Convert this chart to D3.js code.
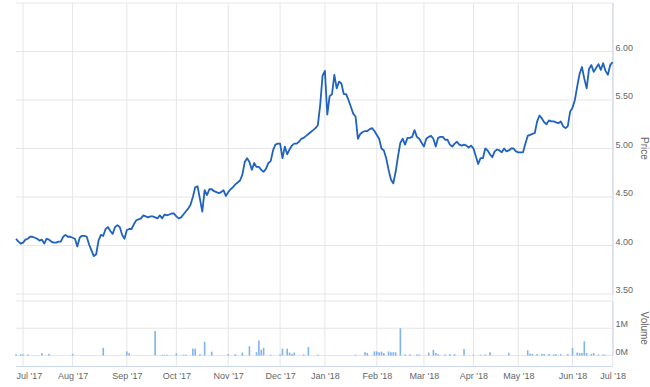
<!DOCTYPE html>
<html>
<head>
<meta charset="utf-8">
<script src="https://cdn.jsdelivr.net/npm/d3@7/dist/d3.min.js"></script>
<style>
  html, body { margin: 0; padding: 0; background: #fff; }
  svg { display: block; }
  text { font-family: "Liberation Sans", Arial, sans-serif; }
</style>
</head>
<body>
<svg id="chart" width="650" height="387"></svg>
<script>
// ---- Data (daily closing prices grouped by month; last days of Jun '17 first) ----
const priceJun17 = [4.07, 4.04, 4.02];
const priceJul17 = [4.03, 4.06, 4.07, 4.09, 4.09, 4.08, 4.07, 4.05, 4.06, 4.02, 4.07, 4.06, 4.04, 4.03, 4.03, 4.04, 4.04, 4.09, 4.11, 4.09, 4.09];
const priceAug17 = [4.08, 4.07, 3.99, 4.08, 4.10, 4.10, 4.09, 4.01, 3.95, 3.89, 3.91, 4.05, 4.11, 4.10, 4.17, 4.19, 4.15, 4.12, 4.19, 4.21, 4.19, 4.11, 4.07];
const priceSep17 = [4.16, 4.17, 4.17, 4.22, 4.26, 4.27, 4.28, 4.31, 4.30, 4.29, 4.30, 4.30, 4.29, 4.28, 4.31, 4.28, 4.32, 4.31, 4.32, 4.33, 4.33];
const priceOct17 = [4.30, 4.28, 4.29, 4.32, 4.35, 4.38, 4.42, 4.50, 4.60, 4.61, 4.48, 4.35, 4.57, 4.52, 4.58, 4.58, 4.56, 4.55, 4.54, 4.55, 4.57, 4.51];
const priceNov17 = [4.55, 4.58, 4.60, 4.63, 4.65, 4.67, 4.73, 4.86, 4.90, 4.86, 4.78, 4.85, 4.81, 4.81, 4.78, 4.76, 4.79, 4.85, 4.87, 4.98, 5.04, 5.05];
const priceDec17 = [5.05, 4.90, 5.02, 4.94, 4.99, 5.03, 5.05, 5.05, 5.07, 5.10, 5.11, 5.13, 5.15, 5.17, 5.19, 5.21, 5.24, 5.45, 5.75];
const priceJan18 = [5.80, 5.35, 5.54, 5.56, 5.76, 5.62, 5.69, 5.67, 5.56, 5.56, 5.50, 5.43, 5.36, 5.33, 5.10, 5.15, 5.17, 5.18, 5.18, 5.20, 5.21, 5.18];
const priceFeb18 = [5.14, 5.10, 5.00, 4.98, 4.90, 4.78, 4.68, 4.64, 4.76, 4.92, 5.06, 5.10, 5.04, 5.11, 5.11, 5.12, 5.19, 5.12, 5.10, 5.06];
const priceMar18 = [5.02, 5.10, 5.12, 5.13, 5.10, 5.02, 5.11, 5.12, 5.12, 5.09, 5.09, 5.04, 5.02, 5.05, 5.07, 5.04, 5.03, 5.04, 5.03, 5.01, 5.03];
const priceApr18 = [5.00, 4.92, 4.84, 4.90, 4.90, 5.00, 4.98, 4.94, 4.91, 4.97, 4.99, 4.98, 4.96, 5.00, 4.97, 4.98, 5.00, 5.00, 4.97];
const priceMay18 = [4.96, 4.96, 4.96, 5.05, 5.13, 5.14, 5.15, 5.16, 5.28, 5.34, 5.31, 5.27, 5.25, 5.29, 5.28, 5.28, 5.27, 5.26, 5.28, 5.23, 5.21, 5.23, 5.38];
const priceJun18 = [5.42, 5.50, 5.64, 5.77, 5.84, 5.72, 5.62, 5.82, 5.86, 5.79, 5.83, 5.87, 5.81, 5.88, 5.80, 5.76, 5.86];
const priceJul18 = [5.89];

const months = [priceJun17, priceJul17, priceAug17, priceSep17, priceOct17, priceNov17, priceDec17,
                priceJan18, priceFeb18, priceMar18, priceApr18, priceMay18, priceJun18, priceJul18];
const monthLabels = ["Jul '17", "Aug '17", "Sep '17", "Oct '17", "Nov '17", "Dec '17", "Jan '18",
                     "Feb '18", "Mar '18", "Apr '18", "May '18", "Jun '18", "Jul '18"];

// Volume: trading-day index and volume (millions) for days with visible bars
const volumeDay = [0, 2, 3, 5, 11, 14, 24, 37, 47, 48, 59, 62, 63, 64, 68, 71, 72, 75, 76, 78, 80, 83,
  90, 93, 96, 99, 102, 103, 104, 105, 108, 112, 113, 115, 116, 117, 118, 122, 124, 128,
  144, 148, 149, 152, 153, 154, 155, 156, 158, 159, 160, 161, 163, 165, 167, 170, 171,
  175, 177, 178, 179, 182, 184, 186, 190, 194, 197, 199, 201, 209,
  217, 218, 219, 221, 223, 224, 226, 228, 229, 231, 234, 236, 238, 239, 240, 241, 242, 244, 245, 247, 249, 250];
const volumeM = [0.05, 0.05, 0.04, 0.04, 0.09, 0.06, 0.06, 0.28, 0.15, 0.09, 0.90, 0.03, 0.03, 0.03, 0.08, 0.03, 0.03, 0.25, 0.25, 0.05, 0.50, 0.14,
  0.05, 0.05, 0.11, 0.34, 0.12, 0.55, 0.21, 0.28, 0.03, 0.04, 0.25, 0.25, 0.11, 0.06, 0.11, 0.04, 0.31, 0.03,
  0.03, 0.12, 0.09, 0.15, 0.15, 0.12, 0.14, 0.09, 0.15, 0.12, 0.12, 0.12, 1.00, 0.04, 0.04, 0.04, 0.04,
  0.11, 0.21, 0.09, 0.05, 0.04, 0.05, 0.05, 0.24, 0.03, 0.03, 0.04, 0.12, 0.10,
  0.19, 0.07, 0.06, 0.05, 0.06, 0.05, 0.06, 0.04, 0.05, 0.05, 0.05, 0.28, 0.11, 0.09, 0.09, 0.52, 0.09, 0.06, 0.09, 0.04, 0.04, 0.03];

const priceTicks = [3.5, 4.0, 4.5, 5.0, 5.5, 6.0];
const priceGrid = [3.5, 4.0, 4.5, 5.0, 5.5, 6.0, 6.5];
const volumeTicks = [0, 1e6];
const volumeGrid = [0, 1e6, 2e6];

// ---- Derived ----
const prices = months.flat();
const monthStart = [];
{ let c = 0; months.forEach((m, k) => { if (k > 0) monthStart.push(c); c += m.length; }); }

// ---- Layout ----
const L = 16, R = 612.6;
const priceTop = 3, priceBottom = 294;
const volTop = 301, volBottom = 355.5;
const axisY = 366;

const svg = d3.select("#chart");
const x = d3.scaleLinear().domain([0, prices.length - 1]).range([L, R]);
const yP = d3.scaleLinear().domain([3.5, 6.5]).range([priceBottom, priceTop]);
const yV = d3.scaleLinear().domain([0, 2e6]).range([volBottom, volTop]);

const gridColor = "#e6e6e6";
const axisColor = "#ccd6eb";
const labelColor = "#666666";

// vertical grid lines
svg.append("g").selectAll("line").data(monthStart).join("line")
  .attr("x1", d => x(d)).attr("x2", d => x(d))
  .attr("y1", priceTop).attr("y2", axisY)
  .attr("stroke", gridColor).attr("stroke-width", 1);

// horizontal grid lines
svg.append("g").selectAll("line").data(priceGrid).join("line")
  .attr("x1", L).attr("x2", R)
  .attr("y1", d => yP(d)).attr("y2", d => yP(d))
  .attr("stroke", gridColor).attr("stroke-width", 1);
svg.append("g").selectAll("line").data(volumeGrid).join("line")
  .attr("x1", L).attr("x2", R)
  .attr("y1", d => yV(d)).attr("y2", d => yV(d))
  .attr("stroke", gridColor).attr("stroke-width", 1);

// right axis lines
svg.append("line").attr("x1", R + 0.5).attr("x2", R + 0.5).attr("y1", priceTop).attr("y2", priceBottom)
  .attr("stroke", axisColor);
svg.append("line").attr("x1", R + 0.5).attr("x2", R + 0.5).attr("y1", volTop).attr("y2", volBottom)
  .attr("stroke", axisColor);

// volume bars
svg.append("g").selectAll("rect").data(volumeDay).join("rect")
  .attr("x", (d) => x(d) - 0.8)
  .attr("width", 1.6)
  .attr("y", (d, i) => yV(volumeM[i] * 1e6))
  .attr("height", (d, i) => volBottom - yV(volumeM[i] * 1e6))
  .attr("fill", "#7fb3ec");

// price line
svg.append("path").datum(prices)
  .attr("d", d3.line().x((d, i) => x(i)).y(d => yP(d)))
  .attr("fill", "none")
  .attr("stroke", "#1f62bf")
  .attr("stroke-width", 1.8)
  .attr("stroke-linejoin", "round");

// x axis
const xAxis = d3.axisBottom(x).tickValues(monthStart).tickFormat((d, i) => monthLabels[i]).tickSize(0).tickPadding(7);
const gx = svg.append("g").attr("transform", `translate(0,${axisY})`).call(xAxis);
gx.select(".domain").attr("stroke", axisColor).attr("d", `M${L},0.5H${R}`);
gx.selectAll("text").attr("fill", labelColor).style("font-size", "9px")
  .each(function(d) {
    const w = this.getComputedTextLength();
    if (x(d) - w / 2 < L) d3.select(this).attr("text-anchor", "start").attr("x", L - x(d));
  });

// price axis
const pAxis = d3.axisRight(yP).tickValues(priceTicks).tickFormat(d3.format(".2f")).tickSize(0).tickPadding(3);
const gp = svg.append("g").attr("transform", `translate(${R},0)`).call(pAxis);
gp.select(".domain").remove();
gp.selectAll("text").attr("fill", labelColor).style("font-size", "9px").attr("dy", "-1.5");

// volume axis
const vAxis = d3.axisRight(yV).tickValues(volumeTicks).tickFormat(d => (d / 1e6) + "M").tickSize(0).tickPadding(3);
const gv = svg.append("g").attr("transform", `translate(${R},0)`).call(vAxis);
gv.select(".domain").remove();
gv.selectAll("text").attr("fill", labelColor).style("font-size", "9px").attr("dy", "-1.5");

// axis titles
svg.append("text").attr("transform", `translate(641,${(priceTop + priceBottom) / 2}) rotate(90)`)
  .attr("text-anchor", "middle").attr("fill", labelColor).style("font-size", "10px").text("Price");
svg.append("text").attr("transform", `translate(641,${(volTop + volBottom) / 2}) rotate(90)`)
  .attr("text-anchor", "middle").attr("fill", labelColor).style("font-size", "10px").text("Volume");
</script>
</body>
</html>
